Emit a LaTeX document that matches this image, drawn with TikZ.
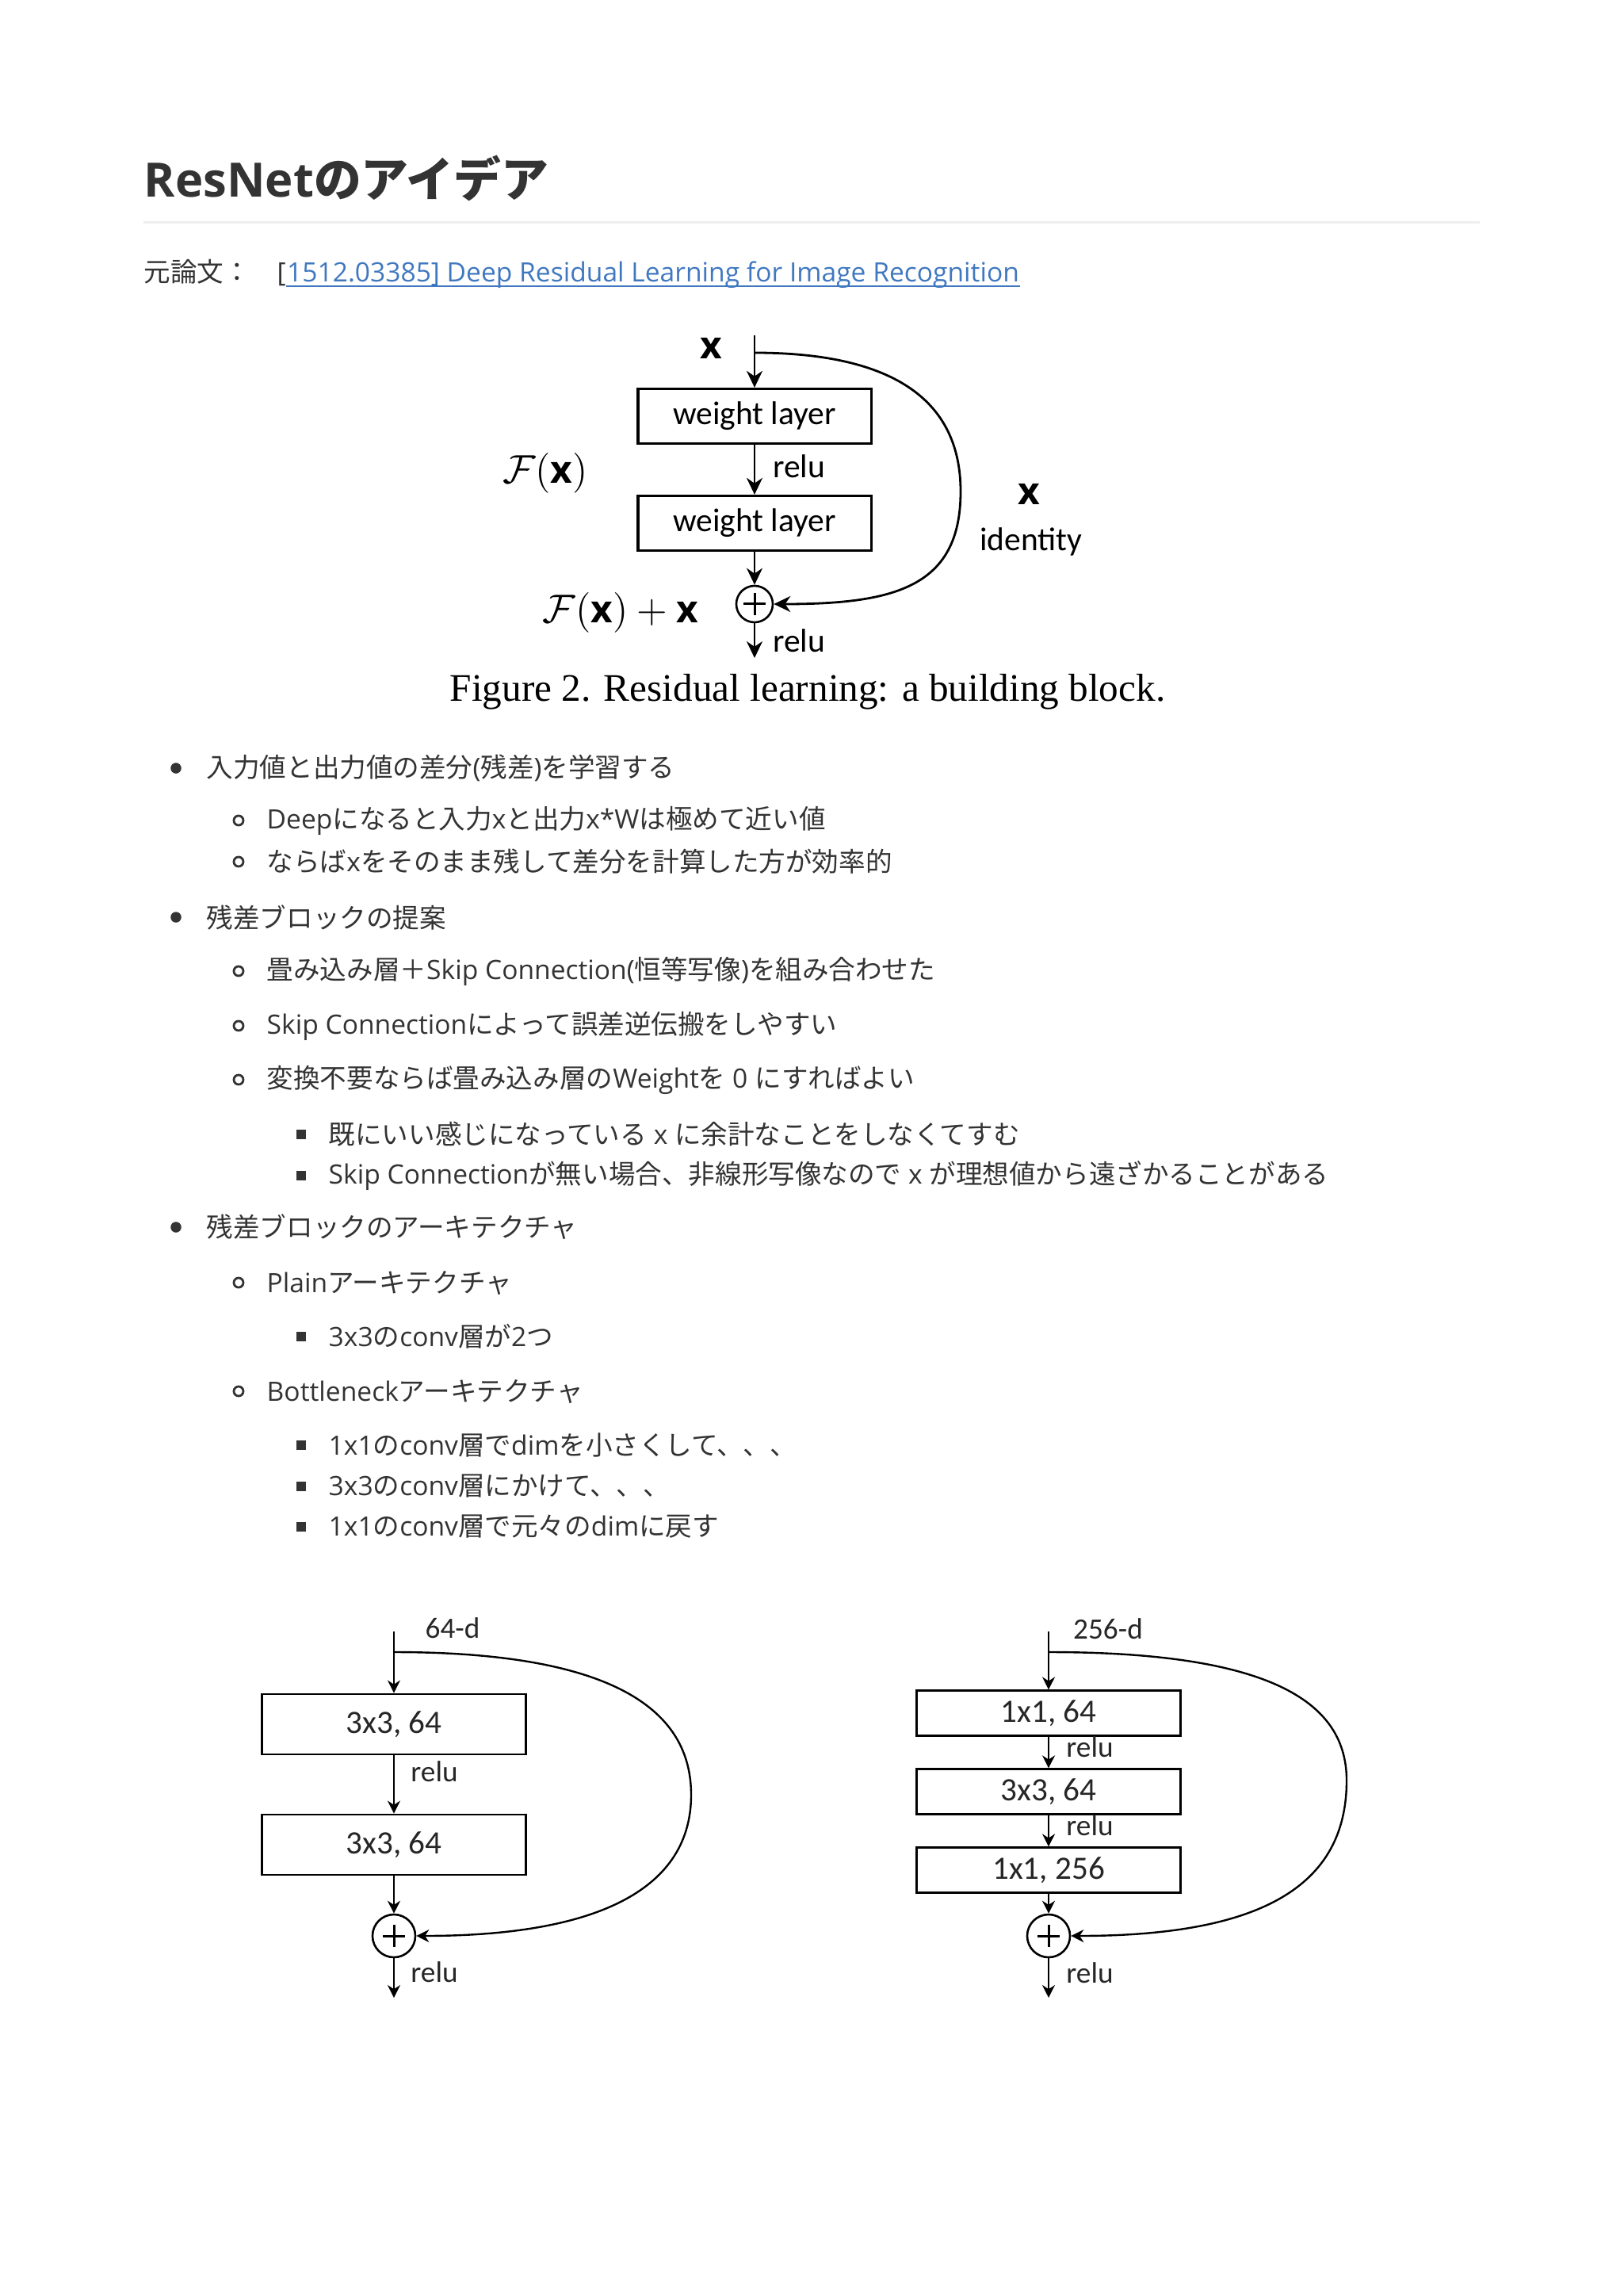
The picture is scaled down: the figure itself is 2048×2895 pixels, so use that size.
\documentclass[tikz,border=0pt]{standalone}
\usepackage{xcolor}
\usepackage{fontspec}
\usepackage{tikz}
\usetikzlibrary{arrows.meta}
\setmainfont{Open Sans}
\newfontfamily\jp{Noto Sans CJK JP}
\newfontfamily\cali{Carlito}
\newfontfamily\capfont{Liberation Serif}
\newcommand{\J}[1]{{\jp #1}}
\definecolor{ink}{HTML}{333333}
\definecolor{linkblue}{HTML}{4078C0}
\definecolor{rulegray}{HTML}{EEEEEE}
\tikzstyle{heading} = [anchor=west, inner sep=0pt, text=ink, font=\fontsize{17pt}{20pt}\selectfont\bfseries]
\tikzstyle{bodytext} = [anchor=west, inner sep=0pt, text=ink, font=\fontsize{9.55pt}{12pt}\selectfont]
\tikzstyle{discbullet} = [circle, fill=ink, inner sep=0pt, minimum size=0.135cm]
\tikzstyle{ringbullet} = [circle, draw=ink, line width=0.028cm, inner sep=0pt, minimum size=0.12cm]
\tikzstyle{squarebullet} = [rectangle, fill=ink, inner sep=0pt, minimum size=0.115cm]
\tikzstyle{layer} = [rectangle, draw=black, line width=0.032cm, minimum width=2.94cm, minimum height=0.69cm, font=\cali\fontsize{11.8pt}{14pt}\selectfont]
\tikzstyle{convlayer} = [rectangle, draw=black, line width=0.028cm, minimum width=3.33cm, text=black!85, font=\cali\fontsize{11.7pt}{14pt}\selectfont]
\tikzstyle{addnode} = [circle, draw=black, line width=0.026cm, inner sep=0pt]
\tikzstyle{cross} = [line width=0.03cm]
\tikzstyle{relulabel} = [inner sep=0pt, font=\cali\fontsize{11.8pt}{14pt}\selectfont]
\tikzstyle{smalllabel} = [inner sep=0pt, text=black!85, font=\cali\fontsize{10.6pt}{13pt}\selectfont]
\tikzstyle{mathlabel} = [inner sep=0pt, font=\fontsize{13.6pt}{16pt}\selectfont]
\tikzstyle{figcaption} = [inner sep=0pt, font=\capfont\fontsize{14pt}{17pt}\selectfont]
\tikzstyle{arrow} = [line width=0.028cm,->,>={Stealth[length=0.21cm,width=0.2cm]}]
\tikzstyle{smallarrow} = [line width=0.024cm,->,>={Stealth[length=0.16cm,width=0.16cm]}]

\begin{document}
\begin{tikzpicture}[x=0.01cm, y=-0.01cm]
\useasboundingbox (0,0) rectangle (2048,2895);

% heading and source
\node[heading] (title) at (181,225) {ResNet\J{のアイデア}};
\draw[rulegray, line width=0.03cm] (181,281) -- (1867,281);
\node[bodytext, anchor=base west] (src) at (181,356) {\J{元論文：}};
\node[bodytext, anchor=base west] (brk) at (349,356) {[};
\node[bodytext, anchor=base west, text=linkblue] (paper) at (brk.base east) {1512.03385] Deep Residual Learning for Image Recognition};
\draw[linkblue, line width=0.025cm] ([yshift=-0.05cm]paper.base west) -- ([yshift=-0.05cm]paper.base east);

% residual block from the paper
\coordinate (top) at (952,423);
\coordinate (branch) at (952,445);
\node[mathlabel] (xin) at (897,439) {$\mathbf{x}$};
\node[layer] (w1) at (952,525) {weight layer};
\node[relulabel] (r1) at (1008,588) {relu};
\node[layer] (w2) at (952,660) {weight layer};
\node[addnode, minimum size=0.46cm] (add) at (952,762) {};
\draw[cross] ([yshift=0.14cm]add.center) -- ([yshift=-0.14cm]add.center) ([xshift=-0.14cm]add.center) -- ([xshift=0.14cm]add.center);
\node[relulabel] (r2) at (1008,808) {relu};
\coordinate (out) at (952,830);
\node[mathlabel] (fx) at (688,597) {$\mathcal{F}(\mathbf{x})$};
\node[mathlabel] (fxx) at (783,773) {$\mathcal{F}(\mathbf{x})+\mathbf{x}$};
\node[mathlabel] (xid) at (1298,623) {$\mathbf{x}$};
\node[relulabel] (ident) at (1301,683) {identity};
\node[figcaption] (cap) at (1019,873) {Figure 2. Residual learning: a building block.};

\draw[arrow] (top) -- (w1);
\draw[arrow] (w1) -- (w2);
\draw[arrow] (w2) -- (add);
\draw[arrow] (add) -- (out);
\draw[arrow] (branch) .. controls (1120,445) and (1212,500) .. (1212,620) .. controls (1212,740) and (1130,762) .. (add.east);

% bullet list
\node[discbullet] (b1) at (222,969) {};
\node[bodytext] (t1) at (260,969) {\J{入力値と出力値の差分}(\J{残差})\J{を学習する}};
\node[ringbullet] (b2) at (301,1035) {};
\node[bodytext] (t2) at (336,1035) {Deep\J{になると入力}x\J{と出力}x*W\J{は極めて近い値}};
\node[ringbullet] (b3) at (301,1087) {};
\node[bodytext] (t3) at (336,1087) {\J{ならば}x\J{をそのまま残して差分を計算した方が効率的}};
\node[discbullet] (b4) at (222,1157) {};
\node[bodytext] (t4) at (260,1157) {\J{残差ブロックの提案}};
\node[ringbullet] (b5) at (301,1225) {};
\node[bodytext] (t5) at (336,1225) {\J{畳み込み層＋}Skip Connection(\J{恒等写像})\J{を組み合わせた}};
\node[ringbullet] (b6) at (301,1294) {};
\node[bodytext] (t6) at (336,1294) {Skip Connection\J{によって誤差逆伝搬をしやすい}};
\node[ringbullet] (b7) at (301,1362) {};
\node[bodytext] (t7) at (336,1362) {\J{変換不要ならば畳み込み層の}Weight\J{を} 0 \J{にすればよい}};
\node[squarebullet] (b8) at (380,1431) {};
\node[bodytext] (t8) at (414,1431) {\J{既にいい感じになっている} x \J{に余計なことをしなくてすむ}};
\node[squarebullet] (b9) at (380,1483) {};
\node[bodytext] (t9) at (414,1483) {Skip Connection\J{が無い場合、非線形写像なので} x \J{が理想値から遠ざかることがある}};
\node[discbullet] (b10) at (222,1548) {};
\node[bodytext] (t10) at (260,1548) {\J{残差ブロックのアーキテクチャ}};
\node[ringbullet] (b11) at (301,1618) {};
\node[bodytext] (t11) at (336,1618) {Plain\J{アーキテクチャ}};
\node[squarebullet] (b12) at (380,1686) {};
\node[bodytext] (t12) at (414,1686) {3x3\J{の}conv\J{層が}2\J{つ}};
\node[ringbullet] (b13) at (301,1755) {};
\node[bodytext] (t13) at (336,1755) {Bottleneck\J{アーキテクチャ}};
\node[squarebullet] (b14) at (380,1823) {};
\node[bodytext] (t14) at (414,1823) {1x1\J{の}conv\J{層で}dim\J{を小さくして、、、}};
\node[squarebullet] (b15) at (380,1875) {};
\node[bodytext] (t15) at (414,1875) {3x3\J{の}conv\J{層にかけて、、、}};
\node[squarebullet] (b16) at (380,1926) {};
\node[bodytext] (t16) at (414,1926) {1x1\J{の}conv\J{層で元々の}dim\J{に戻す}};

% plain block
\coordinate (ptop) at (497,2058);
\coordinate (pbranch) at (497,2084);
\node[smalllabel] (pdim) at (571,2054) {64-d};
\node[convlayer, minimum height=0.76cm] (p1) at (497,2175) {3x3, 64};
\node[smalllabel] (pr1) at (548,2235) {relu};
\node[convlayer, minimum height=0.76cm] (p2) at (497,2327) {3x3, 64};
\node[addnode, minimum size=0.54cm] (padd) at (497,2442) {};
\draw[cross] ([yshift=0.14cm]padd.center) -- ([yshift=-0.14cm]padd.center) ([xshift=-0.14cm]padd.center) -- ([xshift=0.14cm]padd.center);
\node[smalllabel] (pr2) at (548,2488) {relu};
\coordinate (pout) at (497,2520);

\draw[smallarrow] (ptop) -- (p1);
\draw[smallarrow] (p1) -- (p2);
\draw[smallarrow] (p2) -- (padd);
\draw[smallarrow] (padd) -- (pout);
\draw[smallarrow] (pbranch) .. controls (780,2084) and (872,2160) .. (872,2264) .. controls (872,2380) and (760,2442) .. (padd.east);

% bottleneck block
\coordinate (btop) at (1323,2058);
\coordinate (bbranch) at (1323,2084);
\node[smalllabel] (bdim) at (1398,2055) {256-d};
\node[convlayer, minimum height=0.5cm] (n1) at (1323,2161) {1x1, 64};
\node[smalllabel] (nr1) at (1375,2204) {relu};
\node[convlayer, minimum height=0.5cm] (n2) at (1323,2260) {3x3, 64};
\node[smalllabel] (nr2) at (1375,2303) {relu};
\node[convlayer, minimum height=0.5cm] (n3) at (1323,2359) {1x1, 256};
\node[addnode, minimum size=0.54cm] (nadd) at (1323,2442) {};
\draw[cross] ([yshift=0.14cm]nadd.center) -- ([yshift=-0.14cm]nadd.center) ([xshift=-0.14cm]nadd.center) -- ([xshift=0.14cm]nadd.center);
\node[smalllabel] (nr3) at (1375,2489) {relu};
\coordinate (nout) at (1323,2520);

\draw[smallarrow] (btop) -- (n1);
\draw[smallarrow] (n1) -- (n2);
\draw[smallarrow] (n2) -- (n3);
\draw[smallarrow] (n3) -- (nadd);
\draw[smallarrow] (nadd) -- (nout);
\draw[smallarrow] (bbranch) .. controls (1610,2084) and (1699,2150) .. (1699,2246) .. controls (1699,2380) and (1590,2442) .. (nadd.east);

\end{tikzpicture}
\end{document}
